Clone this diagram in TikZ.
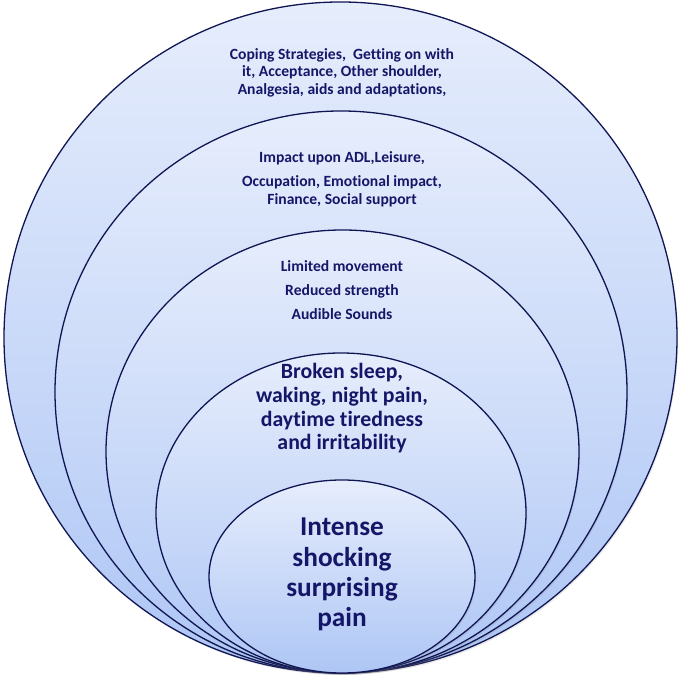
\documentclass[tikz,border=0pt]{standalone}
\usepackage{fontspec}
\setmainfont[Ligatures=NoCommon]{Carlito}
\usetikzlibrary{shapes.geometric,shadows}
\definecolor{topc}{RGB}{230,237,252}
\definecolor{botc}{RGB}{174,198,245}
\definecolor{edgec}{RGB}{16,22,84}
\definecolor{txtc}{RGB}{22,22,104}
\tikzset{
  layer/.style={ellipse, draw=edgec, line width=1.3pt, inner sep=0pt, outer sep=0pt,
    top color=topc, bottom color=botc,
    drop shadow={opacity=0.18, shadow xshift=1.2pt, shadow yshift=-1.8pt}},
  lbl/.style={text=txtc, align=center, font=\bfseries, inner sep=0pt}
}
\begin{document}
\begin{tikzpicture}[x=1pt,y=1pt]
\useasboundingbox (0,0) rectangle (685,685);
\node[layer, minimum width=673pt, minimum height=671pt] (L1) at (340.5,347.5) {};
\node[layer, minimum width=572pt, minimum height=562pt] (L2) at (341,293) {};
\node[layer, minimum width=473pt, minimum height=443pt] (L3) at (342.5,233.5) {};
\node[layer, minimum width=370pt, minimum height=320pt] (L4) at (341,172) {};
\node[layer, minimum width=266pt, minimum height=193pt] (L5) at (342,108.5) {};

\node[lbl, font=\fontsize{15.6}{17.5}\selectfont\bfseries] (T1) at (342,612.5)
  {Coping Strategies,\ \ Getting on with\\ it, Acceptance, Other shoulder,\\ Analgesia, aids and adaptations,};
\node[lbl, font=\fontsize{15.6}{18}\selectfont\bfseries] (T2) at (342,506)
  {Impact upon ADL,Leisure,\\[6pt] Occupation, Emotional impact,\\ Finance, Social support};
\node[lbl, font=\fontsize{15.6}{24}\selectfont\bfseries] (T3) at (342,395)
  {Limited movement\\ Reduced strength\\ Audible Sounds};
\node[lbl, font=\fontsize{21.8}{23.7}\selectfont\bfseries] (T4) at (342,276.5)
  {Broken sleep,\\ waking, night pain,\\ daytime tiredness\\ and irritability};
\node[lbl, font=\fontsize{27.3}{30.3}\selectfont\bfseries] (T5) at (342,110.5)
  {Intense\\ shocking\\ surprising\\ pain};
\end{tikzpicture}
\end{document}
